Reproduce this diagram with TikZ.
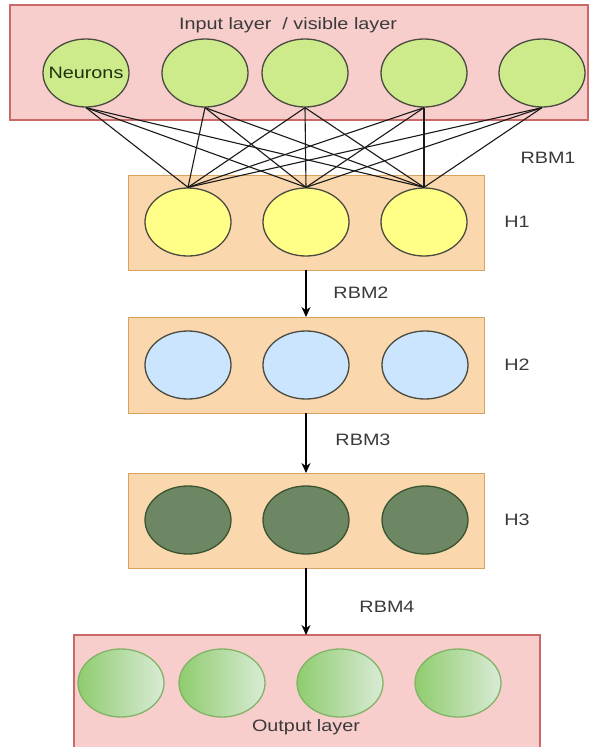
\documentclass[tikz,border=0pt]{standalone}
\usepackage{fontspec}
\setmainfont{Liberation Sans}
\usetikzlibrary{arrows.meta,shapes.geometric}

\definecolor{layerfill}{HTML}{F8CECC}
\definecolor{layerdraw}{HTML}{C96A66}
\definecolor{hidfill}{HTML}{FAD7AC}
\definecolor{hiddraw}{HTML}{D9A25E}
\definecolor{inpfill}{HTML}{CDEB8B}
\definecolor{yelfill}{HTML}{FFFF88}
\definecolor{bluefill}{HTML}{CCE5FF}
\definecolor{darkgfill}{HTML}{6D8764}
\definecolor{darkgdraw}{HTML}{3A5431}
\definecolor{outleft}{HTML}{8FCC6E}
\definecolor{outright}{HTML}{D9EBD6}
\definecolor{outdraw}{HTML}{82B366}
\definecolor{nodeline}{HTML}{4A4A40}
\definecolor{labeltext}{HTML}{3A3A3A}
\definecolor{neurontext}{HTML}{1F3310}

\newcommand{\wide}[1]{\scalebox{1.2}[1]{#1}}

\tikzset{
  layerbox/.style={draw=layerdraw, fill=layerfill, line width=1.2pt},
  hiddenbox/.style={draw=hiddraw, fill=hidfill, line width=1pt},
  neuron/.style={ellipse, draw=nodeline, line width=1.3pt, minimum width=86pt, minimum height=68pt, inner sep=0pt},
  inneuron/.style={neuron, fill=inpfill},
  h1neuron/.style={neuron, fill=yelfill},
  h2neuron/.style={neuron, fill=bluefill},
  h3neuron/.style={neuron, fill=darkgfill, draw=darkgdraw},
  outneuron/.style={neuron, draw=outdraw, left color=outleft, right color=outright},
  lbl/.style={font=\fontsize{16.5}{18}\selectfont, text=labeltext, inner sep=0pt},
  weight/.style={draw=black!90, line width=1.1pt},
  flow/.style={draw=black, line width=1.2pt, -{Stealth[length=10pt,width=9pt]}}
}

\begin{document}
\begin{tikzpicture}[x=1pt,y=-1pt]
\useasboundingbox (0,0) rectangle (590,747);
\clip (0,0) rectangle (590,747);

% layer containers
\path[layerbox] (10,5) rectangle (588,120);
\path[hiddenbox] (128,175) rectangle (484,270);
\path[hiddenbox] (128,317) rectangle (484,413);
\path[hiddenbox] (128,473) rectangle (484,568);
\path[layerbox] (74,635) rectangle (540,752);

\node[coordinate] (h1bot) at (306,270) {};
\node[coordinate] (h2top) at (306,317) {};
\node[coordinate] (h2bot) at (306,413) {};
\node[coordinate] (h3top) at (306,473) {};
\node[coordinate] (h3bot) at (306,568) {};
\node[coordinate] (outtop) at (306,635) {};

% visible layer
\node[inneuron] (i1) at (86,73) {};
\node[inneuron] (i2) at (205,73) {};
\node[inneuron] (i3) at (305,73) {};
\node[inneuron] (i4) at (424,73) {};
\node[inneuron] (i5) at (542,73) {};
\node[lbl, text=neurontext] (nlab) at (i1) {\wide{Neurons}};

% hidden layer 1
\node[h1neuron] (a1) at (188,222) {};
\node[h1neuron] (a2) at (306,222) {};
\node[h1neuron] (a3) at (424,222) {};

% hidden layer 2
\node[h2neuron] (b1) at (188,365) {};
\node[h2neuron] (b2) at (306,365) {};
\node[h2neuron] (b3) at (425,365) {};

% hidden layer 3
\node[h3neuron] (c1) at (188,520) {};
\node[h3neuron] (c2) at (306,520) {};
\node[h3neuron] (c3) at (425,520) {};

% output layer
\node[outneuron] (o1) at (121,683) {};
\node[outneuron] (o2) at (222,683) {};
\node[outneuron] (o3) at (340,683) {};
\node[outneuron] (o4) at (458,683) {};

% full connections between visible layer and H1
\foreach \i in {1,...,5}
  \foreach \j in {1,2,3}
    \draw[weight] (i\i.south) -- (a\j.north);

% stacked RBM links
\draw[flow] (h1bot) -- (h2top);
\draw[flow] (h2bot) -- (h3top);
\draw[flow] (h3bot) -- (outtop);

% labels
\node[lbl] (tin) at (288,25) {\wide{Input layer \ / visible layer}};
\node[lbl] (r1) at (548,158) {\wide{RBM1}};
\node[lbl] (l1) at (517,222) {\wide{H1}};
\node[lbl] (r2) at (361,293) {\wide{RBM2}};
\node[lbl] (l2) at (517,365) {\wide{H2}};
\node[lbl] (r3) at (363,440) {\wide{RBM3}};
\node[lbl] (l3) at (517,520) {\wide{H3}};
\node[lbl] (r4) at (387,607) {\wide{RBM4}};
\node[lbl] (tout) at (306,727) {\wide{Output layer}};
\end{tikzpicture}
\end{document}
